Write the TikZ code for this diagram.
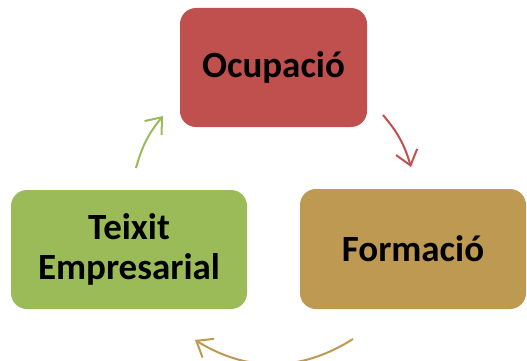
\documentclass[tikz,border=0pt]{standalone}
\usepackage{fontspec}
\setmainfont{Carlito}
\usetikzlibrary{arrows.meta, positioning}
\definecolor{ocured}{HTML}{C0504D}
\definecolor{formgold}{HTML}{BE9952}
\definecolor{teixgreen}{HTML}{9BBB59}
\tikzset{
    x=1pt, y=-1pt, % one unit per pixel, y runs downwards
    >={Straight Barb[length=14pt, width=22pt]}, % open arrow heads
    block/.style={rounded corners=16pt, minimum height=119pt, inner sep=0pt,
        align=center, font=\fontsize{37}{40}\selectfont\bfseries}, % the three boxes
    cyclearrow/.style={->, line width=2pt}, % curved arrows between the boxes
}
\begin{document}
\begin{tikzpicture}

    \useasboundingbox (0,0) rectangle (527,361);

    \node[block, fill=ocured, minimum width=187pt] (ocu) at (273.5,67.5) {Ocupació};
    \node[block, fill=formgold, minimum width=226pt, minimum height=120pt] (form) at (413,249) {Formació};
    \node[block, fill=teixgreen, minimum width=236pt] (teix) at (129,249.5) {Teixit\\Empresarial};

    \coordinate (ocuout) at (383,115);
    \coordinate (formin) at (411,167);
    \coordinate (formout) at (353,339);
    \coordinate (teixin) at (195,340);
    \coordinate (teixout) at (136,168);
    \coordinate (ocuin) at (163,116);

    \draw[cyclearrow, ocured] (ocuout) to[bend left=12] (formin);
    \draw[cyclearrow, formgold] (formout) to[bend left=32] (teixin);
    \draw[cyclearrow, teixgreen] (teixout) to[bend left=12] (ocuin);

\end{tikzpicture}
\end{document}
